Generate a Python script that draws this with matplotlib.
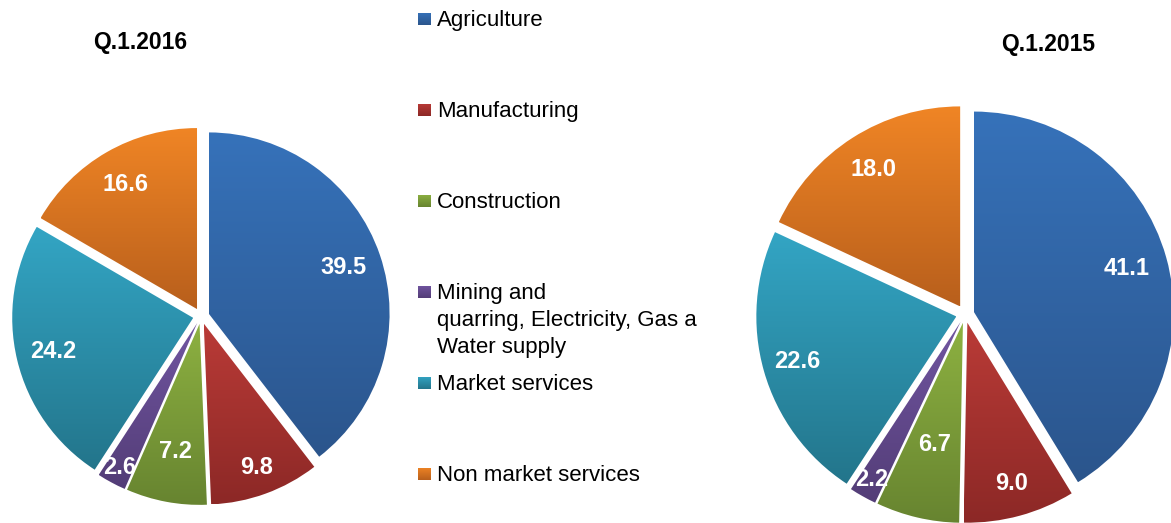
import numpy as np
import matplotlib
matplotlib.use("Agg")
import matplotlib.pyplot as plt
from matplotlib.patches import Rectangle
from matplotlib.colors import to_rgb

plt.rcParams['font.family'] = ['Liberation Sans', 'DejaVu Sans']

# ---- data ----
categories = ["Agriculture", "Manufacturing", "Construction",
              "Mining and\nquarring, Electricity, Gas a\nWater supply",
              "Market services", "Non market services"]
values_2016 = [39.5, 9.8, 7.2, 2.6, 24.2, 16.6]
values_2015 = [41.1, 9.0, 6.7, 2.2, 22.6, 18.0]
title_2016 = "Q.1.2016"
title_2015 = "Q.1.2015"

# ---- style ----
top_colors = ["#3672BA", "#BA3B37", "#8DB141", "#7155A1", "#33A5C4", "#F08525"]
bottom_colors = ["#2B558C", "#8C2826", "#678430", "#533D77", "#23758B", "#B85F1C"]
label_r_2016 = [0.83, 0.89, 0.76, 0.95, 0.84, 0.84]
label_r_2015 = [0.84, 0.88, 0.67, 0.95, 0.87, 0.855]

W, H = 1171, 523
fig = plt.figure(figsize=(W / 100, H / 100), dpi=100)
ax = fig.add_axes([0, 0, 1, 1])


def gradient_fill(patch, top, bottom, zorder):
    bb = patch.get_path().transformed(patch.get_patch_transform()).get_extents()
    t = np.linspace(0, 1, 256)[:, None]
    c0 = np.array(to_rgb(top))
    c1 = np.array(to_rgb(bottom))
    img = (c0[None, None, :] * (1 - t[..., None]) + c1[None, None, :] * t[..., None])
    img = np.repeat(img, 2, axis=1)
    im = ax.imshow(img, extent=(bb.x0, bb.x1, bb.y0, bb.y1), origin='upper',
                   aspect='auto', interpolation='bilinear', zorder=zorder)
    im.set_clip_path(patch)


def draw_pie(values, center, radius, explode, label_r):
    wedges, _ = ax.pie(values, center=center, radius=radius,
                       explode=[explode] * len(values), startangle=90,
                       counterclock=False, colors=top_colors,
                       wedgeprops=dict(linewidth=0))
    for i, w in enumerate(wedges):
        w.set_facecolor('none')
        gradient_fill(w, top_colors[i], bottom_colors[i], 2)
        mid = np.deg2rad((w.theta1 + w.theta2) / 2)
        x = center[0] + label_r[i] * radius * np.cos(mid)
        y = center[1] + label_r[i] * radius * np.sin(mid)
        ax.text(x, y, f"{values[i]:.1f}", color='white', fontsize=17,
                fontweight='bold', ha='center', va='center', zorder=5)


draw_pie(values_2016, (201, H - 316), 181, 8, label_r_2016)
draw_pie(values_2015, (965, H - 314), 200, 9, label_r_2015)

ax.text(140, H - 42, title_2016, fontsize=16.5, fontweight='bold',
        ha='center', va='center')
ax.text(1048, H - 45, title_2015, fontsize=16.5, fontweight='bold',
        ha='center', va='center')

# legend
for i, cat in enumerate(categories):
    y = H - (19 + i * 91)
    r = Rectangle((418, y - 6.5), 13, 13, facecolor='none', linewidth=0)
    ax.add_patch(r)
    gradient_fill(r, top_colors[i], bottom_colors[i], 3)
    ax.text(437, y + 9, cat, fontsize=16, ha='left', va='top',
            linespacing=1.38, color='black')

ax.set_xlim(0, W)
ax.set_ylim(0, H)
ax.set_axis_off()
fig.savefig("out.png", dpi=100)
